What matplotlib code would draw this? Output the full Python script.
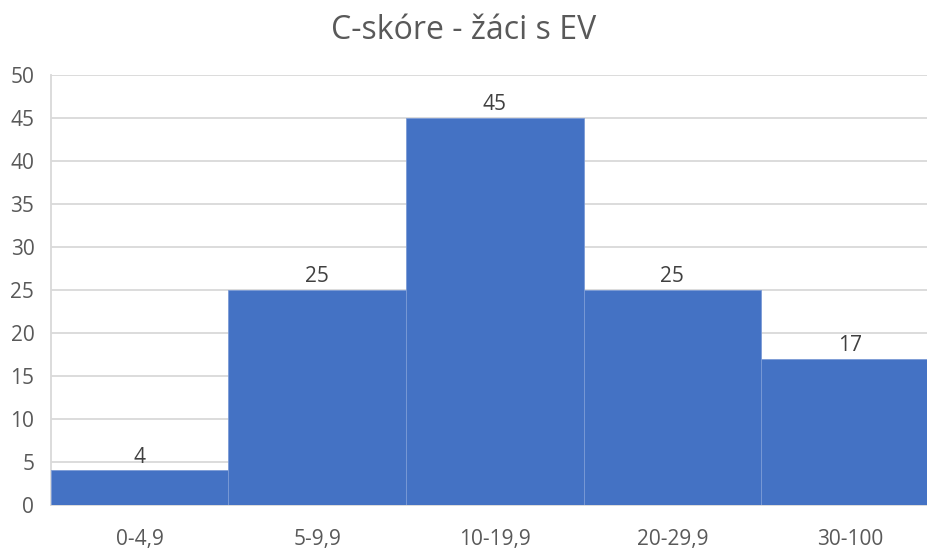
import matplotlib.pyplot as plt

categories = ['0-4,9', '5-9,9', '10-19,9', '20-29,9', '30-100']
counts = [4, 25, 45, 25, 17]

plt.rcParams['font.family'] = ['Open Sans', 'DejaVu Sans']

fig = plt.figure(figsize=(9.27, 5.5), dpi=100)
ax = fig.add_axes([0.055, 0.082, 0.945, 0.782])

x = list(range(len(categories)))
bars = ax.bar(x, counts, width=1.0, color='#4472C4', edgecolor='#7b9bd6', linewidth=0.6, zorder=3)
for b, v in zip(bars, counts):
    ax.text(b.get_x() + b.get_width() / 2, v + 0.3, str(v), ha='center', va='bottom',
            fontsize=15, color='#404040', zorder=4)

ax.set_xlim(-0.5, 4.435)
ax.set_ylim(0, 50)
ax.set_yticks(range(0, 51, 5))
ax.set_xticks(x)
ax.set_xticklabels(categories)
ax.grid(axis='y', color='#D9D9D9', linewidth=1.3, zorder=0)
ax.tick_params(axis='both', length=0, labelsize=15, colors='#595959')
ax.tick_params(axis='x', pad=17)
ax.tick_params(axis='y', pad=12)
for s in ['top', 'right']:
    ax.spines[s].set_visible(False)
ax.spines['left'].set_color('#D9D9D9')
ax.spines['left'].set_linewidth(1.3)
ax.spines['bottom'].set_color('#D9D9D9')
ax.spines['bottom'].set_linewidth(1.3)

fig.suptitle('C-skóre - žáci s EV', y=0.975, fontsize=23, color='#595959')

fig.savefig('out.png', dpi=100)
